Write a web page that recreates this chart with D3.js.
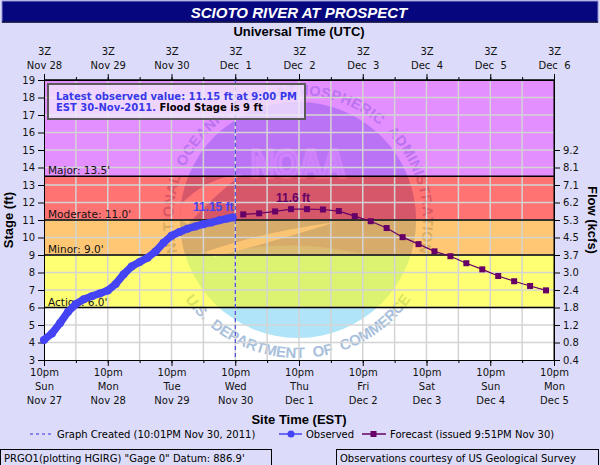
<!DOCTYPE html>
<html>
<head>
<meta charset="utf-8">
<script src="https://cdn.jsdelivr.net/npm/d3@7"></script>
<style>
  body { margin: 0; background: #dcdcfa; }
  svg { display: block; font-family: "DejaVu Sans", sans-serif; }
  .axis text { font-size: 10px; fill: #111; font-family: "DejaVu Sans", sans-serif; }
  .axis path, .axis line { stroke: #000; }
  .bold { font-family: "Liberation Sans", Arial, sans-serif; font-weight: bold; }
</style>
</head>
<body>
<div id="chart"></div>
<script>
// observed stage, EST
const obsTimes = [
  "2011-11-27T22:00-05:00", "2011-11-28T01:00-05:00", "2011-11-28T04:00-05:00",
  "2011-11-28T07:00-05:00", "2011-11-28T10:00-05:00", "2011-11-28T13:00-05:00",
  "2011-11-28T16:00-05:00", "2011-11-28T19:00-05:00", "2011-11-28T22:00-05:00",
  "2011-11-29T01:00-05:00", "2011-11-29T04:00-05:00", "2011-11-29T07:00-05:00",
  "2011-11-29T10:00-05:00", "2011-11-29T13:00-05:00", "2011-11-29T16:00-05:00",
  "2011-11-29T19:00-05:00", "2011-11-29T22:00-05:00", "2011-11-30T01:00-05:00",
  "2011-11-30T04:00-05:00", "2011-11-30T07:00-05:00", "2011-11-30T10:00-05:00",
  "2011-11-30T13:00-05:00", "2011-11-30T16:00-05:00", "2011-11-30T19:00-05:00",
  "2011-11-30T21:00-05:00"
];
const obsStage = [4.15, 4.52, 5.1, 5.75, 6.2, 6.47, 6.65, 6.8, 6.97, 7.35, 7.9, 8.35,
  8.6, 8.85, 9.2, 9.7, 10.1, 10.32, 10.5, 10.63, 10.76, 10.86, 10.98, 11.08, 11.15];

// forecast stage, EST
const fcstTimes = [
  "2011-12-01T01:00-05:00", "2011-12-01T07:00-05:00", "2011-12-01T13:00-05:00", "2011-12-01T19:00-05:00",
  "2011-12-02T01:00-05:00", "2011-12-02T07:00-05:00", "2011-12-02T13:00-05:00", "2011-12-02T19:00-05:00",
  "2011-12-03T01:00-05:00", "2011-12-03T07:00-05:00", "2011-12-03T13:00-05:00", "2011-12-03T19:00-05:00",
  "2011-12-04T01:00-05:00", "2011-12-04T07:00-05:00", "2011-12-04T13:00-05:00", "2011-12-04T19:00-05:00",
  "2011-12-05T01:00-05:00", "2011-12-05T07:00-05:00", "2011-12-05T13:00-05:00", "2011-12-05T19:00-05:00"
];
const fcstStage = [11.32, 11.38, 11.49, 11.62, 11.62, 11.6, 11.51, 11.22, 10.93, 10.54,
  10.02, 9.62, 9.21, 8.93, 8.53, 8.18, 7.8, 7.5, 7.23, 6.98];

const graphCreated = "2011-11-30T22:01-05:00";
const xStart = "2011-11-28T03:00Z";
const xEnd = "2011-12-06T03:00Z";

const stageTicks = [3, 4, 5, 6, 7, 8, 9, 10, 11, 12, 13, 14, 15, 16, 17, 18, 19];
const flowStages = [3, 4, 5, 6, 7, 8, 9, 10, 11, 12, 13, 14, 15];
const flowLabels = ["0.4", "0.8", "1.2", "1.8", "2.4", "3.0", "3.7", "4.5", "5.3", "6.2", "7.1", "8.1", "9.2"];

const floodNames = ["Action", "Minor", "Moderate", "Major"];
const floodStages = [6, 9, 11, 13.5];
const bandColors = ["#ffff00", "#ff9900", "#ff0000", "#cc33ff"];

const W = 600, H = 465;
const m = { left: 44, right: 554, top: 80, bottom: 360 };
const obsColor = "#4444f4", fcstColor = "#660066";

const svg = d3.select("#chart").append("svg").attr("width", W).attr("height", H);

const x = d3.scaleUtc().domain([new Date(xStart), new Date(xEnd)]).range([m.left, m.right]);
const y = d3.scaleLinear().domain([3, 19]).range([m.bottom, m.top]);

const obs = obsTimes.map((t, i) => ({ date: new Date(t), stage: obsStage[i] }));
const fcst = fcstTimes.map((t, i) => ({ date: new Date(t), stage: fcstStage[i] }));

const defs = svg.append("defs");
defs.append("clipPath").attr("id", "plotClip")
  .append("rect").attr("x", m.left).attr("y", m.top)
  .attr("width", m.right - m.left).attr("height", m.bottom - m.top);

// title bar
svg.append("rect").attr("x", 2).attr("y", 1).attr("width", 596).attr("height", 21)
  .attr("fill", "#06067e").attr("stroke", "#8c8cd0").attr("stroke-width", 1);
svg.append("line").attr("x1", 2).attr("x2", 598).attr("y1", 22).attr("y2", 22)
  .attr("stroke", "#000030").attr("stroke-width", 1.5);
svg.append("text").attr("class", "bold").attr("x", 299).attr("y", 17.5)
  .attr("text-anchor", "middle").attr("fill", "#fff").style("font-size", "15px")
  .style("font-style", "italic").text("SCIOTO RIVER AT PROSPECT");

svg.append("text").attr("class", "bold").attr("x", 299).attr("y", 35.5)
  .attr("text-anchor", "middle").style("font-size", "13px").text("Universal Time (UTC)");
svg.append("text").attr("class", "bold").attr("x", 299).attr("y", 423.5)
  .attr("text-anchor", "middle").style("font-size", "13px").text("Site Time (EST)");
svg.append("text").attr("class", "bold")
  .attr("transform", "translate(12.5," + (m.top + m.bottom) / 2 + ") rotate(-90)")
  .attr("text-anchor", "middle").style("font-size", "13px").text("Stage (ft)");
svg.append("text").attr("class", "bold")
  .attr("transform", "translate(587.5," + (m.top + m.bottom) / 2 + ") rotate(90)")
  .attr("text-anchor", "middle").style("font-size", "13px").text("Flow (kcfs)");

// plot background + watermark
svg.append("rect").attr("x", m.left).attr("y", m.top)
  .attr("width", m.right - m.left).attr("height", m.bottom - m.top).attr("fill", "#fff");

const logo = svg.append("g").attr("clip-path", "url(#plotClip)");
const cx = 298, cy = 220, rDisc = 118;
defs.append("clipPath").attr("id", "discClip")
  .append("circle").attr("cx", cx).attr("cy", cy).attr("r", rDisc);
logo.append("circle").attr("cx", cx).attr("cy", cy).attr("r", rDisc).attr("fill", "#b0e4f8");
const disc = logo.append("g").attr("clip-path", "url(#discClip)");
disc.append("path")
  .attr("d", "M170 90 L430 90 L430 252 Q380 258 340 250 Q300 242 250 248 Q210 252 170 256 Z")
  .attr("fill", "#a6c2ec");
disc.append("path").attr("d", "M172 215 Q200 178 242 174 Q215 195 188 224 Z").attr("fill", "#fff");
disc.append("path").attr("d", "M205 252 Q262 232 336 222 Q272 242 215 257 Z").attr("fill", "#f4f8fd");
disc.append("text").attr("class", "bold").attr("x", cx).attr("y", 177)
  .attr("text-anchor", "middle").style("font-size", "38px")
  .attr("textLength", 94).attr("lengthAdjust", "spacingAndGlyphs")
  .attr("fill", "#a6c2ec").attr("stroke", "#d3e2f6").attr("stroke-width", 4)
  .text("NOAA");

// ring lettering, one glyph per text so each sits on the circle
function ringText(str, r, th0, th1, size) {
  const g = logo.append("g").attr("class", "bold").style("font-size", size + "px").attr("fill", "#a8c0dc");
  const chars = str.split("");
  const nodes = chars.map((c) => g.append("text").attr("text-anchor", "middle").text(c));
  const widths = nodes.map((n) => n.node().getComputedTextLength() || size * 0.6);
  const total = d3.sum(widths);
  const arc = r * Math.abs(th1 - th0);
  const gap = (arc - total) / (chars.length - 1);
  const dir = th1 > th0 ? 1 : -1;
  let pos = 0;
  nodes.forEach((n, i) => {
    const th = th0 + dir * (pos + widths[i] / 2) / r;
    const rot = (th + dir * Math.PI / 2) * 180 / Math.PI;
    n.attr("transform", `translate(${cx + r * Math.cos(th)},${cy + r * Math.sin(th)}) rotate(${rot})`);
    pos += widths[i] + gap;
  });
}
const aTop = 15 * Math.PI / 180, aBot = 35 * Math.PI / 180;
ringText("NATIONAL OCEANIC AND ATMOSPHERIC ADMINISTRATION", 125, Math.PI - aTop, 2 * Math.PI + aTop, 14.5);
ringText("U.S. DEPARTMENT OF COMMERCE", 138, Math.PI - aBot, aBot, 15);

// flood category bands
const bandTops = floodStages.slice(1).concat([19]);
svg.append("g").selectAll("rect").data(floodStages).join("rect")
  .attr("x", m.left).attr("width", m.right - m.left)
  .attr("y", (d, i) => y(bandTops[i]))
  .attr("height", (d, i) => y(d) - y(bandTops[i]))
  .attr("fill", (d, i) => bandColors[i]).attr("fill-opacity", 0.55);

// grid
const halfDays = d3.utcHour.range(x.domain()[0], new Date(+x.domain()[1] + 1), 12);
const days = d3.utcHour.range(x.domain()[0], new Date(+x.domain()[1] + 1), 24);
const grid = svg.append("g").attr("stroke", "#d4d4d4").attr("stroke-width", 1.5);
grid.selectAll("line.v").data(halfDays.slice(1, -1)).join("line").attr("class", "v")
  .attr("x1", x).attr("x2", x).attr("y1", m.top).attr("y2", m.bottom);
grid.selectAll("line.h").data(stageTicks.slice(1, -1)).join("line").attr("class", "h")
  .attr("x1", m.left).attr("x2", m.right).attr("y1", y).attr("y2", y);

// category lines + labels
svg.append("g").selectAll("line").data(floodStages.concat([19])).join("line")
  .attr("x1", m.left).attr("x2", m.right).attr("y1", y).attr("y2", y)
  .attr("stroke", "#000").attr("stroke-width", 1.5);
svg.append("g").selectAll("text").data(floodStages).join("text")
  .attr("x", m.left + 4).attr("y", (d) => y(d) - 2)
  .style("font-size", "10.5px").attr("fill", "#111")
  .text((d, i) => `${floodNames[i]}: ${d.toFixed(1)}'`);

// axes
function styleAxis(g) {
  g.attr("font-family", null).attr("font-size", null).attr("class", "axis");
}
svg.append("g").attr("transform", `translate(0,${m.top})`)
  .call(d3.axisTop(x).tickValues(halfDays).tickSize(3).tickFormat("").tickSizeOuter(0)).call(styleAxis);
const topAx = svg.append("g").attr("transform", `translate(0,${m.top})`)
  .call(d3.axisTop(x).tickValues(days).tickSize(6).tickSizeOuter(0)).call(styleAxis);
topAx.selectAll(".tick text").each(function (d) {
  const t = d3.select(this).text(null).attr("y", null).attr("dy", null).style("white-space", "pre");
  t.append("tspan").attr("x", 0).attr("y", -25).text(d3.utcFormat("%-HZ")(d));
  t.append("tspan").attr("x", 0).attr("y", -11).text(d3.utcFormat("%b %e")(d));
});

const toEst = (d) => new Date(+d - 5 * 3600 * 1000);
svg.append("g").attr("transform", `translate(0,${m.bottom})`)
  .call(d3.axisBottom(x).tickValues(halfDays).tickSize(3).tickFormat("").tickSizeOuter(0)).call(styleAxis);
const botAx = svg.append("g").attr("transform", `translate(0,${m.bottom})`)
  .call(d3.axisBottom(x).tickValues(days).tickSize(6).tickSizeOuter(0)).call(styleAxis);
botAx.selectAll(".tick text").each(function (d) {
  const e = toEst(d);
  const t = d3.select(this).text(null).attr("y", null).attr("dy", null);
  t.append("tspan").attr("x", 0).attr("y", 16).text(d3.utcFormat("%-I%p")(e).toLowerCase());
  t.append("tspan").attr("x", 0).attr("y", 30).text(d3.utcFormat("%a")(e));
  t.append("tspan").attr("x", 0).attr("y", 44).text(d3.utcFormat("%b %-d")(e));
});

svg.append("g").attr("transform", `translate(${m.left},0)`)
  .call(d3.axisLeft(y).tickValues(stageTicks).tickSize(6).tickSizeOuter(0)).call(styleAxis);
svg.append("g").attr("transform", `translate(${m.right},0)`)
  .call(d3.axisRight(y).tickValues(flowStages).tickSize(6).tickSizeOuter(0)
    .tickFormat((d, i) => flowLabels[i])).call(styleAxis);
svg.append("line").attr("x1", m.right).attr("x2", m.right).attr("y1", m.top).attr("y2", m.bottom)
  .attr("stroke", "#000");

// graph created marker
svg.append("line").attr("x1", x(new Date(graphCreated))).attr("x2", x(new Date(graphCreated)))
  .attr("y1", m.top).attr("y2", m.bottom)
  .attr("stroke", "#3333dd").attr("stroke-dasharray", "4,3");

// observed
const line = d3.line().x((d) => x(d.date)).y((d) => y(d.stage));
svg.append("path").attr("d", line(obs)).attr("fill", "none")
  .attr("stroke", obsColor).attr("stroke-width", 7.5)
  .attr("stroke-linejoin", "round").attr("stroke-linecap", "round");
svg.append("g").selectAll("circle").data(obs).join("circle")
  .attr("cx", (d) => x(d.date)).attr("cy", (d) => y(d.stage)).attr("r", 4).attr("fill", obsColor);

// forecast
svg.append("path").attr("d", line(fcst)).attr("fill", "none")
  .attr("stroke", fcstColor).attr("stroke-width", 1.2);
svg.append("g").selectAll("rect").data(fcst).join("rect")
  .attr("x", (d) => x(d.date) - 3).attr("y", (d) => y(d.stage) - 3)
  .attr("width", 6).attr("height", 6).attr("fill", fcstColor);

const last = obs[obs.length - 1];
svg.append("text").attr("class", "bold").attr("x", x(last.date) + 1).attr("y", y(last.stage) - 6)
  .attr("text-anchor", "end").style("font-size", "12px").attr("fill", obsColor)
  .text(`${last.stage} ft`);
const peak = fcst[d3.maxIndex(fcst, (d) => d.stage)];
svg.append("text").attr("class", "bold").attr("x", x(peak.date) + 2).attr("y", y(peak.stage) - 7)
  .attr("text-anchor", "middle").style("font-size", "12px").attr("fill", fcstColor)
  .text(`${d3.format(".1f")(peak.stage)} ft`);

// info box
svg.append("rect").attr("x", 48).attr("y", 84).attr("width", 257).attr("height", 35)
  .attr("fill", "#f3ecfc").attr("fill-opacity", 0.75)
  .attr("stroke", "#5a5a5a").attr("stroke-width", 2);
const estTime = d3.utcFormat("%-I:%M %p");
const estDate = d3.utcFormat("%d-%b-%Y");
const info = svg.append("text").style("font-size", "10px").style("font-weight", "bold");
info.append("tspan").attr("x", 56).attr("y", 100).attr("fill", "#3838e8")
  .text(`Latest observed value: ${last.stage} ft at ${estTime(toEst(last.date))}`);
info.append("tspan").attr("x", 56).attr("y", 111).attr("fill", "#3838e8")
  .text(`EST ${estDate(toEst(last.date))}.`);
info.append("tspan").attr("fill", "#000").text(` Flood Stage is ${floodStages[1]} ft`);

// legend
const lg = svg.append("g").style("font-size", "10px");
const ly = 434;
lg.append("line").attr("x1", 30).attr("x2", 52).attr("y1", ly).attr("y2", ly)
  .attr("stroke", "#3333dd").attr("stroke-dasharray", "3,3");
lg.append("text").attr("x", 57).attr("y", ly + 3.5).text("Graph Created (10:01PM Nov 30, 2011)");
lg.append("line").attr("x1", 279).attr("x2", 302).attr("y1", ly).attr("y2", ly)
  .attr("stroke", obsColor).attr("stroke-width", 1.5);
lg.append("circle").attr("cx", 291).attr("cy", ly).attr("r", 3.5).attr("fill", obsColor);
lg.append("text").attr("x", 306).attr("y", ly + 3.5).text("Observed");
lg.append("line").attr("x1", 362).attr("x2", 386).attr("y1", ly).attr("y2", ly)
  .attr("stroke", fcstColor).attr("stroke-width", 1.5);
lg.append("rect").attr("x", 370.5).attr("y", ly - 3).attr("width", 6).attr("height", 6).attr("fill", fcstColor);
lg.append("text").attr("x", 390).attr("y", ly + 3.5).text("Forecast (issued 9:51PM Nov 30)");

// footer
svg.append("rect").attr("x", 0.5).attr("y", 449.5).attr("width", 271).attr("height", 20)
  .attr("fill", "none").attr("stroke", "#000");
svg.append("text").attr("x", 4).attr("y", 462).style("font-size", "10px")
  .text("PRGO1(plotting HGIRG) \"Gage 0\" Datum: 886.9'");
svg.append("rect").attr("x", 336.5).attr("y", 449.5).attr("width", 262).attr("height", 20)
  .attr("fill", "none").attr("stroke", "#000");
svg.append("text").attr("x", 340).attr("y", 462).style("font-size", "10px")
  .text("Observations courtesy of US Geological Survey");
</script>
</body>
</html>
